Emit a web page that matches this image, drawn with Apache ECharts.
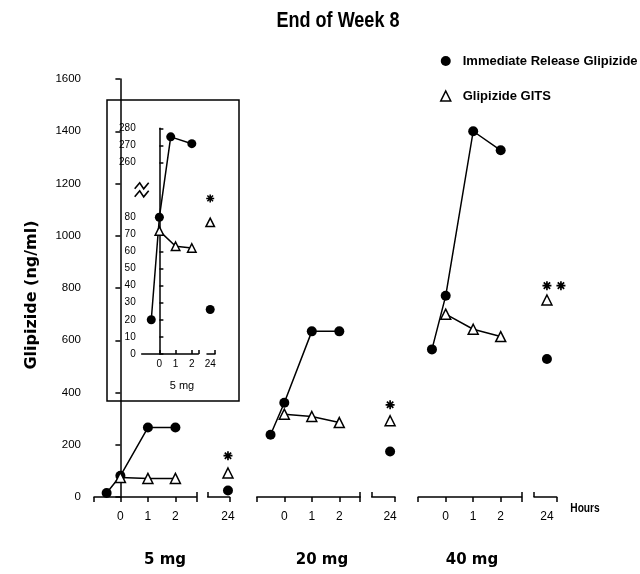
<!DOCTYPE html>
<html><head><meta charset="utf-8">
<script src="https://cdn.jsdelivr.net/npm/echarts@6/dist/echarts.min.js"></script>
<style>html,body{margin:0;padding:0;background:#fff}#c{width:640px;height:574px}</style>
</head><body><div id="c"></div>
<script>
// ---------------- data ----------------
const titleText = 'End of Week 8';
const yAxisTitle = 'Glipizide (ng/ml)';
const IR_NAME = 'Immediate Release Glipizide';
const GITS_NAME = 'Glipizide GITS';
const doses = ['5 mg', '20 mg', '40 mg'];
const irHours = [-0.5, 0, 1, 2];
const gitsHours = [0, 1, 2];
const hourTicks = [0, 1, 2];
const lateHour = 24;
const ir5 = [15, 81, 266, 266];
const ir20 = [238, 361, 634, 634];
const ir40 = [565, 770, 1400, 1327];
const gits5 = [75, 71, 71];
const gits20 = [317, 308, 285];
const gits40 = [700, 642, 614];
const ir24 = [25, 174, 528];
const gits24 = [92, 292, 754];
const star24 = [158, 353, 809];
const starCount = [1, 1, 2];
const yMin = 0, yMax = 1600, yStep = 200;
// inset (5 mg, broken axis)
const insetIrHours = [-0.5, 0, 0.7, 2];
const insetIr = [20, 80, 275, 271];
const insetGitsHours = [0, 1, 2];
const insetGits = [72, 63, 62];
const insetIr24 = 26;
const insetGits24 = 77;
const insetStar24 = 91;
const insetLowTicks = [0, 10, 20, 30, 40, 50, 60, 70, 80];
const insetHighTicks = [260, 270, 280];
const insetLabel = '5 mg';
const hoursLabel = 'Hours';

// ---------------- layout ----------------
const SANS = "'Liberation Sans',Arial,sans-serif";
const HEAVY = "'DejaVu Sans',sans-serif";
const Y_TOP = 79, Y_H = 418;
const UNIT = 27.5;
const mainLayout = [{left: 94, min: -0.96, max: 2.76}, {left: 256.8, min: -1, max: 2.76}, {left: 418.2, min: -1, max: 2.76}];
const lateLayout = [{left: 207.7, width: 21.8, min: 23.07}, {left: 371.7, width: 23.3, min: 23.21}, {left: 534, width: 22.7, min: 23.43}];
const doseLabelX = [165, 322, 472], doseLabelY = 560;
const INSET_SHIFT = 148, INSET_CUT = 150;
const insetY = v => v > INSET_CUT ? v - INSET_SHIFT : v;

const irData = [ir5, ir20, ir40];
const gitsData = [gits5, gits20, gits40];

const grid = [], xAxis = [], yAxis = [], series = [];
const addGrid = g => { grid.push(Object.assign({outerBoundsMode: 'none', containLabel: false}, g)); return grid.length - 1; };
const addX = o => { xAxis.push(o); return xAxis.length - 1; };
const addY = o => { yAxis.push(o); return yAxis.length - 1; };
const AX = {color: '#000', width: 1.5};

function segAxes(gi, min, max, labelVals, downTicks, upTicks, fontSize, margin, tickLen) {
  const a = addX({type: 'value', gridIndex: gi, min, max, position: 'bottom',
    axisLine: {show: true, onZero: false, lineStyle: AX},
    axisTick: {show: downTicks.length > 0, inside: false, length: tickLen, customValues: downTicks, lineStyle: AX},
    axisLabel: {show: true, customValues: labelVals, color: '#000', fontFamily: SANS, fontSize, margin},
    splitLine: {show: false}});
  if (upTicks.length) addX({type: 'value', gridIndex: gi, min, max, position: 'bottom',
    axisLine: {show: false, onZero: false},
    axisTick: {show: true, inside: true, length: tickLen, customValues: upTicks, lineStyle: AX},
    axisLabel: {show: false}, splitLine: {show: false}});
  return a;
}
function starPath(size) {
  const r = size / 2, t = 0.85;
  let d = '';
  for (let k = 0; k < 4; k++) {
    const an = k * Math.PI / 4, c = Math.cos(an), s = Math.sin(an);
    const pts = [[-r, -t], [r, -t], [r, t], [-r, t]].map(([u, v]) => [u * c - v * s, u * s + v * c]);
    d += 'M' + pts.map(p => p[0].toFixed(2) + ',' + p[1].toFixed(2)).join('L') + 'Z';
  }
  return 'path://' + d;
}
const STAR = 9, STAR_GAP = 14;

const BLACK = {color: '#000', opacity: 1};
const HOLLOW = {color: '#fff', borderColor: '#000', borderWidth: 1.5, opacity: 1};
const irStyle = {type: 'line', name: IR_NAME, symbol: 'circle', symbolSize: 10,
  itemStyle: BLACK, lineStyle: {color: '#000', width: 1.5}, z: 3};
const gitsStyle = {type: 'line', name: GITS_NAME, symbol: 'triangle', symbolSize: 10,
  itemStyle: HOLLOW, lineStyle: {color: '#000', width: 1.5}, z: 4};

for (let g = 0; g < 3; g++) {
  const m = mainLayout[g];
  const gm = addGrid({left: m.left, top: Y_TOP, width: (m.max - m.min) * UNIT, height: Y_H});
  const xa = segAxes(gm, m.min, m.max, hourTicks, [m.min].concat(hourTicks, [m.max]), [m.max], 12, 14, 5);
  const ya = addY(g === 0 ? {
    type: 'value', gridIndex: gm, min: yMin, max: yMax, interval: yStep,
    axisLine: {show: true, lineStyle: AX}, axisTick: {show: true, length: 5, lineStyle: AX},
    axisLabel: {color: '#000', fontFamily: SANS, fontSize: 11.5, margin: 13, formatter: v => String(v)},
    splitLine: {show: false},
    name: yAxisTitle, nameLocation: 'middle', nameGap: 54, nameRotate: 90,
    nameTextStyle: {fontFamily: HEAVY, fontWeight: 'bold', fontSize: 16, color: '#000', padding: [0, 14, 0, 0]}
  } : {type: 'value', gridIndex: gm, min: yMin, max: yMax, show: false});
  series.push(Object.assign({}, irStyle, {xAxisIndex: xa, yAxisIndex: ya,
    data: irHours.map((h, i) => [h, irData[g][i]])}));
  series.push(Object.assign({}, gitsStyle, {xAxisIndex: xa, yAxisIndex: ya,
    data: gitsHours.map((h, i) => [h, gitsData[g][i]])}));

  const l = lateLayout[g];
  const gl = addGrid({left: l.left, top: Y_TOP, width: l.width, height: Y_H});
  const xl = segAxes(gl, l.min, l.min + 1, [lateHour], [l.min + 1], [l.min], 12, 14, 5);
  const yl = addY({type: 'value', gridIndex: gl, min: yMin, max: yMax, show: false});
  series.push({type: 'scatter', name: IR_NAME, xAxisIndex: xl, yAxisIndex: yl, symbol: 'circle', symbolSize: 10,
    itemStyle: BLACK, data: [[lateHour, ir24[g]]], z: 3});
  series.push({type: 'scatter', name: GITS_NAME, xAxisIndex: xl, yAxisIndex: yl, symbol: 'triangle', symbolSize: 10,
    itemStyle: HOLLOW, data: [[lateHour, gits24[g]]], z: 4});
  const starItems = [];
  for (let j = 0; j < starCount[g]; j++) starItems.push({value: [lateHour, star24[g]], symbolOffset: [j * STAR_GAP, 0]});
  series.push({type: 'scatter', name: 'significance', xAxisIndex: xl, yAxisIndex: yl,
    symbol: starPath(STAR), symbolKeepAspect: true, symbolSize: STAR,
    itemStyle: BLACK, data: starItems, z: 4});
}

// inset
const IN_TOP = 128.3, IN_H = 225.7;
const insetMain = addGrid({left: 141.7, top: IN_TOP, width: 56.6, height: IN_H});
const ixm = segAxes(insetMain, -1.09, 2.4, hourTicks, [], hourTicks.concat([2.4]), 10, 5, 4);
const insetTickVals = insetLowTicks.concat(insetHighTicks.map(v => v - INSET_SHIFT));
const iym = addY({type: 'value', gridIndex: insetMain, min: 0, max: insetY(insetHighTicks[insetHighTicks.length - 1]),
  axisLine: {show: true, lineStyle: AX},
  axisTick: {show: true, inside: true, length: 4, customValues: insetTickVals, lineStyle: AX},
  axisLabel: {customValues: insetTickVals, formatter: v => String(v > 100 ? Math.round(v + INSET_SHIFT) : v),
    color: '#000', fontFamily: SANS, fontSize: 10, margin: 6},
  splitLine: {show: false}});
const insetLate = addGrid({left: 207, top: IN_TOP, width: 8, height: IN_H});
const ixl = segAxes(insetLate, 23.6, 24.6, [lateHour], [], [24.6], 10, 5, 4);
const iyl = addY({type: 'value', gridIndex: insetLate, min: 0, max: insetY(insetHighTicks[insetHighTicks.length - 1]), show: false});
series.push(Object.assign({}, irStyle, {xAxisIndex: ixm, yAxisIndex: iym, symbolSize: 9,
  data: insetIrHours.map((h, i) => [h, insetY(insetIr[i])])}));
series.push(Object.assign({}, gitsStyle, {xAxisIndex: ixm, yAxisIndex: iym, symbolSize: 8.5,
  data: insetGitsHours.map((h, i) => [h, insetY(insetGits[i])])}));
series.push({type: 'scatter', name: IR_NAME, xAxisIndex: ixl, yAxisIndex: iyl, symbol: 'circle', symbolSize: 9,
  itemStyle: BLACK, data: [[lateHour, insetY(insetIr24)]]});
series.push({type: 'scatter', name: GITS_NAME, xAxisIndex: ixl, yAxisIndex: iyl, symbol: 'triangle', symbolSize: 8.5,
  itemStyle: HOLLOW, data: [[lateHour, insetY(insetGits24)]]});
series.push({type: 'scatter', name: 'significance', xAxisIndex: ixl, yAxisIndex: iyl, symbol: starPath(STAR),
  symbolKeepAspect: true, symbolSize: 8, itemStyle: BLACK, data: [[lateHour, insetStar24]]});

const chart = echarts.init(document.getElementById('c'), null, {renderer: 'canvas'});
chart.setOption({
  animation: false,
  backgroundColor: '#fff',
  grid, xAxis, yAxis, series,
  legend: {
    orient: 'vertical', left: 440, top: 54, padding: 0, itemWidth: 10, itemHeight: 10, itemGap: 21,
    selectedMode: false,
    textStyle: {fontFamily: SANS, fontWeight: 'bold', fontSize: 13, color: '#000', lineHeight: 14, padding: [0, 0, 0, 7]},
    data: [
      {name: IR_NAME, icon: 'circle', itemStyle: {color: '#000', borderWidth: 0, opacity: 1}},
      {name: GITS_NAME, icon: 'triangle', itemStyle: {color: '#fff', borderColor: '#000', borderWidth: 1.5, opacity: 1}}
    ]
  }
});

// decorations: title, labels, inset frame, axis-break mark
const gfx = [];
gfx.push({type: 'text', x: 338, y: 21, scaleX: 0.82, style: {text: titleText, font: "bold 22px " + SANS, fill: '#000', align: 'center', verticalAlign: 'middle'}});
doses.forEach((d, i) => gfx.push({type: 'text', x: doseLabelX[i], y: doseLabelY,
  style: {text: d, font: "bold 15px " + HEAVY, fill: '#000', align: 'center', verticalAlign: 'middle'}}));
gfx.push({type: 'text', x: 585, y: 509, scaleX: 0.85, style: {text: hoursLabel, font: "bold 12px " + SANS, fill: '#000', align: 'center', verticalAlign: 'middle'}});
gfx.push({type: 'rect', shape: {x: 107, y: 100, width: 132, height: 301}, style: {fill: 'none', stroke: '#000', lineWidth: 1.5}, z: 0});
gfx.push({type: 'text', x: 182, y: 386, style: {text: insetLabel, font: "11px " + SANS, fill: '#000', align: 'center', verticalAlign: 'middle'}});
const bp = chart.convertToPixel({gridIndex: insetMain}, [-1.09, 96]);
[-4, 4].forEach(dy => gfx.push({type: 'polyline',
  shape: {points: [[bp[0] - 7, bp[1] + dy + 3], [bp[0] - 2, bp[1] + dy - 3], [bp[0] + 2, bp[1] + dy + 3], [bp[0] + 7, bp[1] + dy - 3]]},
  style: {stroke: '#000', lineWidth: 1.6, fill: 'none'}, z: 10}));
chart.setOption({graphic: gfx});
</script></body></html>
